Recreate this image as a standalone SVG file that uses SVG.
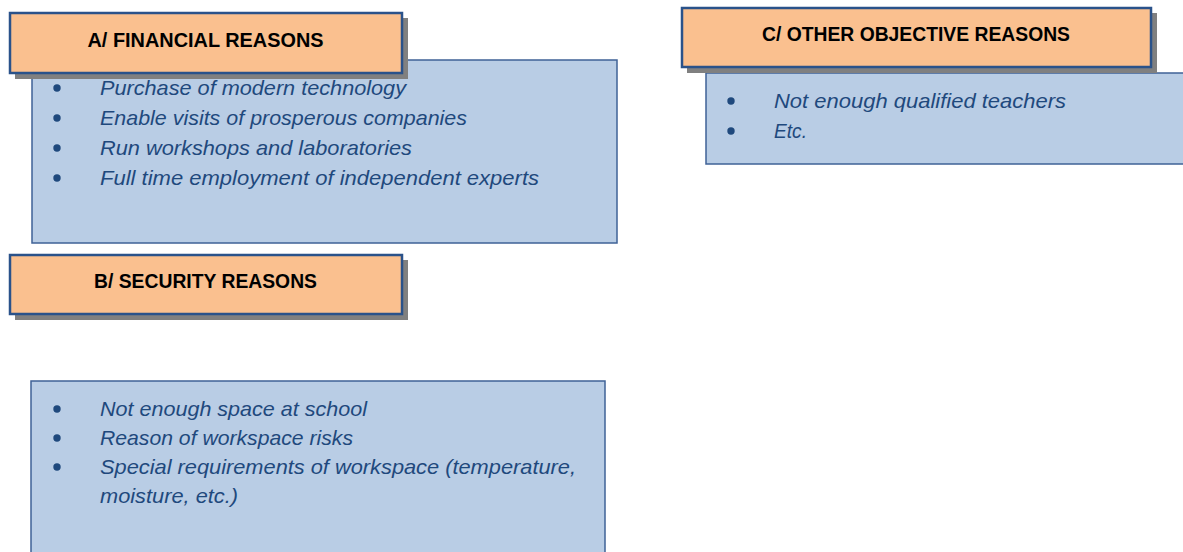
<svg xmlns="http://www.w3.org/2000/svg" width="1183" height="552" viewBox="0 0 1183 552">
  <style>
    .panel { fill: #B9CDE5; stroke: #3F6296; stroke-width: 1.5; }
    .shadow { fill: #808080; }
    .head { fill: #FAC08F; stroke: #2A528A; stroke-width: 2.5; }
    .htext { font-family: "Liberation Sans", Arial, sans-serif; font-weight: bold; font-size: 21px; fill: #000; text-anchor: middle; }
    .item { font-family: "Liberation Sans", Arial, sans-serif; font-style: italic; font-size: 21px; fill: #1F497D; }
    .dot { fill: #1F497D; }
  </style>
  <rect width="1183" height="552" fill="#fff"/>

  <!-- A: financial reasons -->
  <g id="box-a">
    <rect class="panel" x="32" y="60" width="585" height="183"/>
    <circle class="dot" cx="57" cy="88" r="3.7"/>
    <circle class="dot" cx="57" cy="118" r="3.7"/>
    <circle class="dot" cx="57" cy="148" r="3.7"/>
    <circle class="dot" cx="57" cy="178" r="3.7"/>
    <text class="item" x="100" y="95" textLength="306" lengthAdjust="spacingAndGlyphs">Purchase of modern technology</text>
    <text class="item" x="100" y="125" textLength="367" lengthAdjust="spacingAndGlyphs">Enable visits of prosperous companies</text>
    <text class="item" x="100" y="155" textLength="312" lengthAdjust="spacingAndGlyphs">Run workshops and laboratories</text>
    <text class="item" x="100" y="185" textLength="439" lengthAdjust="spacingAndGlyphs">Full time employment of independent experts</text>
  </g>
  <g id="head-a">
    <rect class="shadow" x="15" y="18" width="393" height="61"/>
    <rect class="head" x="10" y="13" width="392" height="60"/>
    <text class="htext" x="205.5" y="47" textLength="236" lengthAdjust="spacingAndGlyphs">A/ FINANCIAL REASONS</text>
  </g>

  <!-- B: security reasons -->
  <g id="head-b">
    <rect class="shadow" x="15" y="260" width="393" height="60"/>
    <rect class="head" x="10" y="255" width="392" height="59"/>
    <text class="htext" x="205.5" y="288" textLength="223" lengthAdjust="spacingAndGlyphs">B/ SECURITY REASONS</text>
  </g>
  <g id="box-b">
    <rect class="panel" x="31" y="381" width="574" height="180"/>
    <circle class="dot" cx="57" cy="409" r="3.7"/>
    <circle class="dot" cx="57" cy="438" r="3.7"/>
    <circle class="dot" cx="57" cy="467" r="3.7"/>
    <text class="item" x="100" y="416" textLength="267" lengthAdjust="spacingAndGlyphs">Not enough space at school</text>
    <text class="item" x="100" y="445" textLength="253" lengthAdjust="spacingAndGlyphs">Reason of workspace risks</text>
    <text class="item" x="100" y="474" textLength="476" lengthAdjust="spacingAndGlyphs">Special requirements of workspace (temperature,</text>
    <text class="item" x="100" y="503" textLength="138" lengthAdjust="spacingAndGlyphs">moisture, etc.)</text>
  </g>

  <!-- C: other objective reasons -->
  <g id="box-c">
    <rect class="panel" x="706" y="73" width="490" height="91"/>
    <circle class="dot" cx="731" cy="101" r="3.7"/>
    <circle class="dot" cx="731" cy="131" r="3.7"/>
    <text class="item" x="774" y="108" textLength="292" lengthAdjust="spacingAndGlyphs">Not enough qualified teachers</text>
    <text class="item" x="774" y="138" textLength="33" lengthAdjust="spacingAndGlyphs">Etc.</text>
  </g>
  <g id="head-c">
    <rect class="shadow" x="687" y="13" width="470" height="60"/>
    <rect class="head" x="682" y="8" width="469" height="59"/>
    <text class="htext" x="916" y="41" textLength="308" lengthAdjust="spacingAndGlyphs">C/ OTHER OBJECTIVE REASONS</text>
  </g>

  <!-- no connectors in this figure -->
  <g id="connectors"/>
</svg>
